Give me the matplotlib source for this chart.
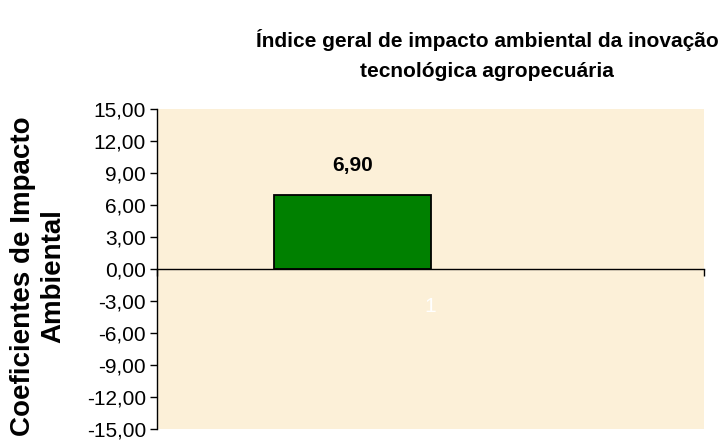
import numpy as np
import matplotlib
matplotlib.use("Agg")
from matplotlib import pyplot as plt
from matplotlib.ticker import FixedLocator, FuncFormatter

# dados do grafico
categorias = ['1']
indice = [6.90]          # serie 1 (unica com valor)
n_series = 2             # o Excel reserva espaco para uma segunda serie vazia
gap_width = 1.5          # "largura do espacamento" 150%
y_ticks = np.arange(-15, 16, 3)

titulo = 'Índice geral de impacto ambiental da inovação\ntecnológica agropecuária'
rotulo_y = 'Coeficientes de Impacto\nAmbiental'

plt.rcParams['font.family'] = ['Liberation Sans', 'DejaVu Sans']

fig = plt.figure(figsize=(7.22, 4.42), dpi=100)
ax = fig.add_axes([157 / 722, 1 - 429 / 442, 547 / 722, 320 / 442])
ax.set_facecolor('#fcf0d8')

x = np.arange(1, len(categorias) + 1)
w = 1 / (n_series + gap_width)
pos = x - 0.5 + gap_width * w / 2 + w / 2
bars = ax.bar(pos, indice, width=w, color='#008000', edgecolor='black', linewidth=1.3, zorder=3)

for b, v in zip(bars, indice):
    ax.annotate(f'{v:.2f}'.replace('.', ','), (b.get_x() + b.get_width() / 2, v),
                xytext=(0, 15), textcoords='offset points', ha='center', va='bottom',
                fontsize=15, fontweight='bold')

ax.set_xlim(0.5, len(categorias) + 0.5)
ax.set_ylim(-15, 15)

for s in ['top', 'right']:
    ax.spines[s].set_visible(False)
ax.spines['bottom'].set_position(('data', 0))
ax.spines['bottom'].set_zorder(4)
ax.spines['left'].set_linewidth(1.0)
ax.spines['bottom'].set_linewidth(1.0)

ax.yaxis.set_major_locator(FixedLocator(y_ticks))
ax.yaxis.set_major_formatter(FuncFormatter(lambda v, p: f'{v:.2f}'.replace('.', ',')))
ax.tick_params(axis='y', direction='out', length=5, width=1, labelsize=15, pad=3)

ax.set_xticks(x)
ax.set_xticklabels(categorias, color='white', fontsize=15)
ax.set_xticks(np.arange(0.5, len(categorias) + 1, 1), minor=True)
ax.tick_params(axis='x', which='major', length=0, pad=20)
ax.tick_params(axis='x', which='minor', direction='out', length=5, width=1)

fig.text(487 / 722, 1 - 55 / 442, titulo, ha='center', va='center',
         fontsize=15, fontweight='bold', linespacing=1.7)
fig.text(38 / 722, 1 - 276 / 442, rotulo_y, ha='center', va='center', rotation=90,
         fontsize=20, fontweight='bold', linespacing=1.2)

fig.savefig('out.png', dpi=100, facecolor='white')
